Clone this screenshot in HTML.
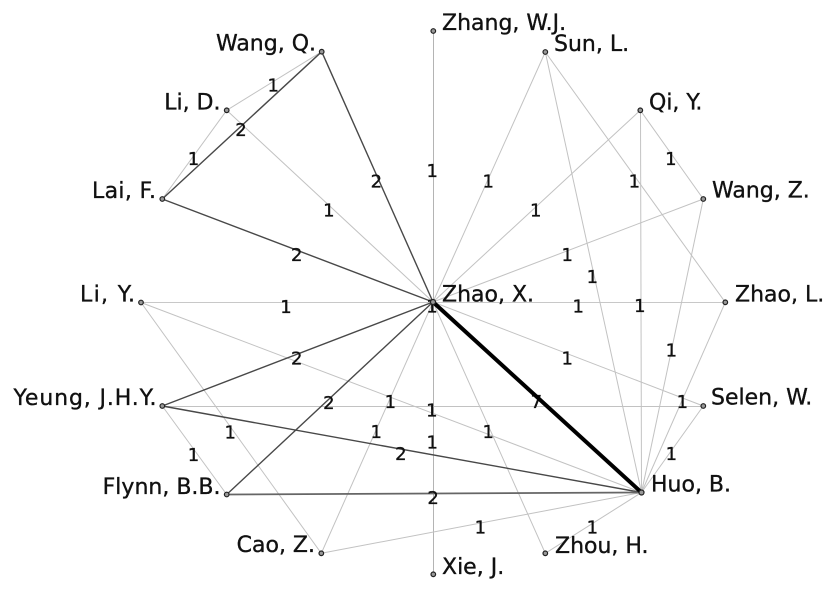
<!DOCTYPE html>
<html>
<head>
<meta charset="utf-8">
<style>
  html,body{margin:0;padding:0;background:#fff;}
  svg{display:block;}
  .n{font-family:"DejaVu Sans","Liberation Sans",sans-serif;font-size:22px;fill:#111;stroke:#111;stroke-width:0.35;}
  .l{font-family:"DejaVu Sans","Liberation Sans",sans-serif;font-size:18px;fill:#111;stroke:#111;stroke-width:0.35;text-anchor:middle;}
  .e1{stroke:#c2c2c2;stroke-width:1;fill:none;}
  .e2{stroke:#484848;stroke-width:1.4;fill:none;}
  .nd{fill:#999;stroke:#222;stroke-width:1.2;}
</style>
</head>
<body>
<svg width="838" height="592" viewBox="0 0 838 592" xmlns="http://www.w3.org/2000/svg">
  <rect width="838" height="592" fill="#fff"/>
  <!-- weight 1 edges -->
  <g class="e1">
    <line x1="433.5" y1="31" x2="433.5" y2="574.3" style="stroke:#b4b4b4"/>
    <line x1="433" y1="302" x2="545.3" y2="52"/>
    <line x1="433" y1="302" x2="640.3" y2="110.3"/>
    <line x1="433" y1="302" x2="703.3" y2="199"/>
    <line x1="141" y1="302.5" x2="725.3" y2="302.5" style="stroke:#c8c8c8"/>
    <line x1="433" y1="302" x2="703.3" y2="406"/>
    <line x1="433" y1="302" x2="545.3" y2="553.3"/>
    <line x1="433" y1="302" x2="321.3" y2="553.3"/>
    <line x1="433" y1="302" x2="226.7" y2="110.3"/>
    <line x1="321.7" y1="51.7" x2="226.7" y2="110.3"/>
    <line x1="226.7" y1="110.3" x2="162.3" y2="199"/>
    <line x1="545.3" y1="52" x2="725.3" y2="302.3"/>
    <line x1="545.3" y1="52" x2="641.5" y2="492.5"/>
    <line x1="640.3" y1="110.3" x2="703.3" y2="199"/>
    <line x1="640.5" y1="110.3" x2="641.5" y2="492.5"/>
    <line x1="703.3" y1="199" x2="641.5" y2="492.5"/>
    <line x1="725.3" y1="302.3" x2="641.5" y2="492.5"/>
    <line x1="703.3" y1="406" x2="641.5" y2="492.5"/>
    <line x1="162.3" y1="406.5" x2="703.3" y2="406.5"/>
    <line x1="162.3" y1="406" x2="226.7" y2="494.5"/>
    <line x1="141" y1="302.5" x2="641.5" y2="492.5"/>
    <line x1="141" y1="302.5" x2="321.3" y2="553.3"/>
    <line x1="321.3" y1="553.3" x2="641.5" y2="492.5"/>
    <line x1="545.3" y1="553.3" x2="641.5" y2="492.5"/>
  </g>
  <!-- weight 2 edges -->
  <g class="e2">
    <line x1="433" y1="302" x2="226.7" y2="494.5"/>
    <line x1="433" y1="302" x2="162.3" y2="406"/>
    <line x1="433" y1="302" x2="162.3" y2="199"/>
    <line x1="433" y1="302" x2="321.7" y2="51.7"/>
    <line x1="321.7" y1="51.7" x2="162.3" y2="199"/>
    <line x1="162.3" y1="406" x2="641.5" y2="492.5"/>
    <line x1="226.7" y1="494.5" x2="641.5" y2="492.5" style="stroke-width:1.8;stroke:#666"/>
  </g>
  <!-- edge labels -->
  <g>
    <text class="l" x="432.2" y="177">1</text>
    <text class="l" x="432.2" y="448.7">1</text>
    <text class="l" x="488.2" y="187.5">1</text>
    <text class="l" x="535.7" y="216.7">1</text>
    <text class="l" x="567.2" y="261">1</text>
    <text class="l" x="578.2" y="312.7">1</text>
    <text class="l" x="567.2" y="364.5">1</text>
    <text class="l" x="488.2" y="438.2">1</text>
    <text class="l" x="376.2" y="438.2">1</text>
    <text class="l" x="328.9" y="408.8">2</text>
    <text class="l" x="296.7" y="364.5">2</text>
    <text class="l" x="286" y="312.8">1</text>
    <text class="l" x="296.7" y="261">2</text>
    <text class="l" x="328.9" y="216.7">1</text>
    <text class="l" x="376.4" y="187.4">2</text>
    <text class="l" x="273.2" y="91.5">1</text>
    <text class="l" x="241" y="135.9">2</text>
    <text class="l" x="193.5" y="165.2">1</text>
    <text class="l" x="634.3" y="187.7">1</text>
    <text class="l" x="592.4" y="282.8">1</text>
    <text class="l" x="670.8" y="165.2">1</text>
    <text class="l" x="639.9" y="311.9">1</text>
    <text class="l" x="671.4" y="356.3">1</text>
    <text class="l" x="682.4" y="407.9">1</text>
    <text class="l" x="671.4" y="459.8">1</text>
    <text class="l" x="431.8" y="416.5">1</text>
    <text class="l" x="400.9" y="459.8">2</text>
    <text class="l" x="193.5" y="460.8">1</text>
    <text class="l" x="390.3" y="408">1</text>
    <text class="l" x="230.2" y="438.4">1</text>
    <text class="l" x="433.1" y="504">2</text>
    <text class="l" x="480.4" y="533.4">1</text>
    <text class="l" x="592.4" y="533.4">1</text>
    <text class="l" x="432" y="312.5">1</text>
    <text class="l" x="536.3" y="407.8">7</text>
  </g>
  <!-- weight 7 edge -->
  <line x1="433" y1="302" x2="641.5" y2="492.5" stroke="#000" stroke-width="4"/>
  <!-- nodes -->
  <g>
    <circle class="nd" cx="433.3" cy="31" r="2.3"/>
    <circle class="nd" cx="545.3" cy="52" r="2.3"/>
    <circle class="nd" cx="640.3" cy="110.3" r="2.3"/>
    <circle class="nd" cx="703.3" cy="199" r="2.3"/>
    <circle class="nd" cx="725.3" cy="302.3" r="2.3"/>
    <circle class="nd" cx="703.3" cy="406" r="2.3"/>
    <circle class="nd" cx="641.5" cy="492.5" r="2.5"/>
    <circle class="nd" cx="545.3" cy="553.3" r="2.3"/>
    <circle class="nd" cx="433.3" cy="574.3" r="2.3"/>
    <circle class="nd" cx="321.3" cy="553.3" r="2.3"/>
    <circle class="nd" cx="226.7" cy="494.5" r="2.3"/>
    <circle class="nd" cx="162.3" cy="406" r="2.3"/>
    <circle class="nd" cx="141" cy="302.5" r="2.3"/>
    <circle class="nd" cx="162.3" cy="199" r="2.3"/>
    <circle class="nd" cx="226.7" cy="110.3" r="2.3"/>
    <circle class="nd" cx="321.7" cy="51.7" r="2.3"/>
    <circle class="nd" cx="433" cy="302" r="2.5"/>
  </g>
  <!-- node names -->
  <g class="n">
    <text x="442" y="30">Zhang, W.J.</text>
    <text x="554" y="51">Sun, L.</text>
    <text x="649" y="109.5">Qi, Y.</text>
    <text x="712" y="197.5">Wang, Z.</text>
    <text x="735" y="301.5">Zhao, L.</text>
    <text x="711" y="404.5">Selen, W.</text>
    <text x="651" y="491.5">Huo, B.</text>
    <text x="555" y="553">Zhou, H.</text>
    <text x="442" y="574">Xie, J.</text>
    <text x="442" y="301.5">Zhao, X.</text>
    <text x="315" y="552" text-anchor="end">Cao, Z.</text>
    <text x="220.5" y="494" text-anchor="end">Flynn, B.B.</text>
    <text x="156.5" y="405" text-anchor="end" textLength="143" lengthAdjust="spacing">Yeung, J.H.Y.</text>
    <text x="135" y="301.5" text-anchor="end" textLength="55" lengthAdjust="spacing">Li, Y.</text>
    <text x="156" y="198" text-anchor="end" textLength="64" lengthAdjust="spacing">Lai, F.</text>
    <text x="220.5" y="109.5" text-anchor="end">Li, D.</text>
    <text x="316" y="50.5" text-anchor="end">Wang, Q.</text>
  </g>
</svg>
</body>
</html>
